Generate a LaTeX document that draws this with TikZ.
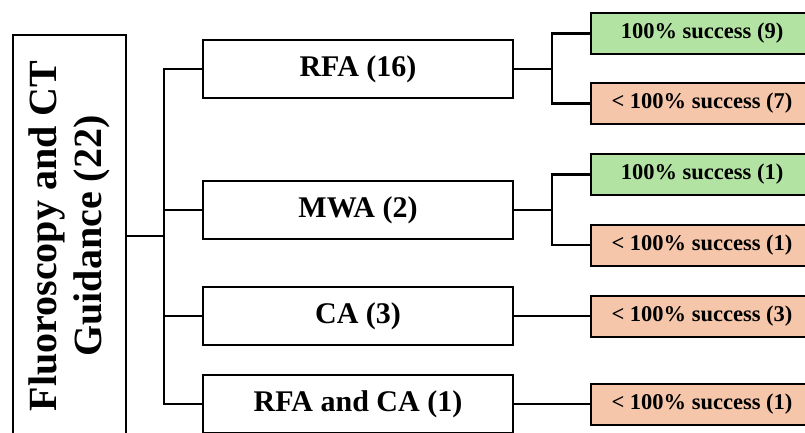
\documentclass[tikz,border=0pt]{standalone}
\usepackage{fontspec}
\setmainfont{Liberation Serif}
\definecolor{okgreen}{HTML}{B3E3A3}
\definecolor{salmon}{HTML}{F6C6AB}
\begin{document}
\begin{tikzpicture}[x=1pt,y=-1pt,
  box/.style={draw=black,line width=2pt,rectangle,inner sep=0pt,font=\bfseries},
  midbox/.style={box,minimum width=310pt,minimum height=58pt,font=\bfseries\fontsize{30}{34}\selectfont},
  resbox/.style={box,minimum width=222pt,minimum height=41pt,font=\bfseries\fontsize{22.5}{26}\selectfont},
  good/.style={resbox,fill=okgreen},
  bad/.style={resbox,fill=salmon},
  conn/.style={draw=black,line width=2.2pt}]
\useasboundingbox (0,0) rectangle (805,432);
\clip (0,0) rectangle (805,432);
\node[box,rotate=90,minimum width=402pt,minimum height=113pt,align=center,
  font=\bfseries\fontsize{40}{45}\selectfont] (root) at (69.5,236) {Fluoroscopy and CT\\Guidance (22)};
\node[midbox] (rfa) at (358,69) {RFA (16)};
\node[midbox] (mwa) at (358,210) {MWA (2)};
\node[midbox] (ca) at (358,316) {CA (3)};
\node[midbox] (rc) at (358,404) {RFA and CA (1)};
\node[good] (g1) at (702,33.5) {100\% success (9)};
\node[bad] (b1) at (702,103.5) {< 100\% success (7)};
\node[good] (g2) at (702,174.5) {100\% success (1)};
\node[bad] (b2) at (702,245) {< 100\% success (1)};
\node[bad] (b3) at (702,316) {< 100\% success (3)};
\node[bad] (b4) at (702,404) {< 100\% success (1)};
\coordinate (t) at (164,236);
\coordinate (s1) at (552,69);
\coordinate (s2) at (552,210);
\path[conn] (root.south) -- (t);
\path[conn] (rfa.west) -| (t);
\path[conn] (mwa.west) -| (t);
\path[conn] (ca.west) -| (t);
\path[conn] (rc.west) -| (t);
\path[conn] (rfa.east) -- (s1);
\path[conn] (g1.west) -| (s1);
\path[conn] (b1.west) -| (s1);
\path[conn] (mwa.east) -- (s2);
\path[conn] (g2.west) -| (s2);
\path[conn] (b2.west) -| (s2);
\path[conn] (ca.east) -- (b3.west);
\path[conn] (rc.east) -- (b4.west);
\end{tikzpicture}
\end{document}
